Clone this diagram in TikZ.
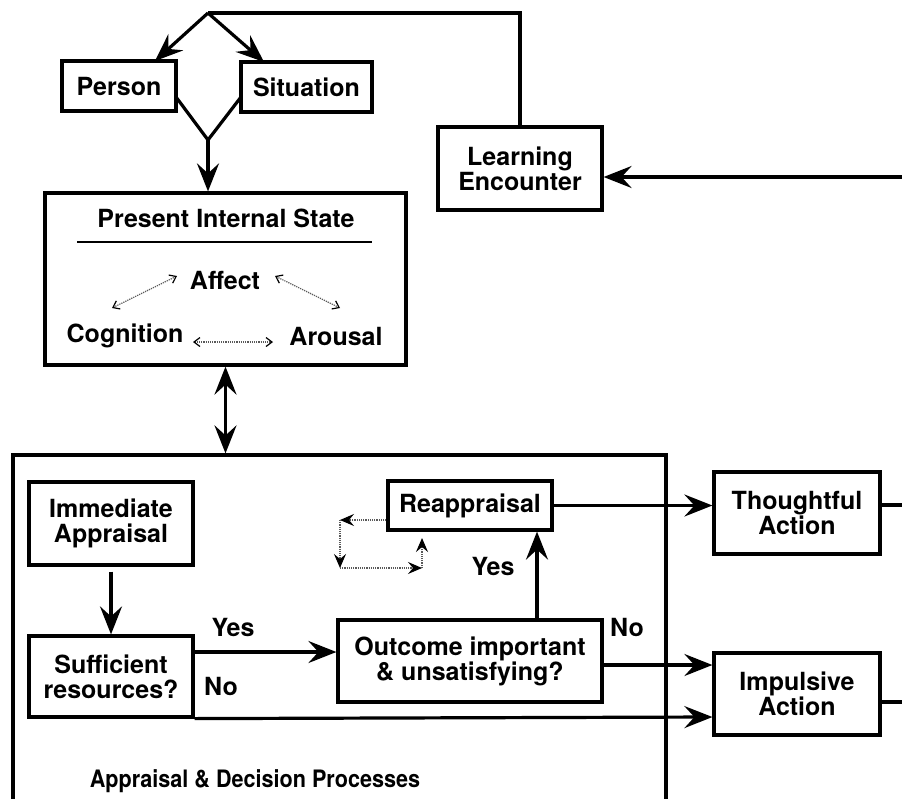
\documentclass[tikz,border=0pt]{standalone}
\usepackage{fontspec}
\setmainfont{TeX Gyre Heros}
\usetikzlibrary{arrows.meta}
\begin{document}
\begin{tikzpicture}[x=1pt,y=-1pt,
  font=\fontsize{25}{26}\selectfont\bfseries,
  box/.style={draw,line width=3.2pt,inner sep=0pt,align=center},
  lbl/.style={inner sep=0pt,align=center},
  wire/.style={line width=3.2pt},
  tip/.tip={Stealth[length=28pt,width=22pt,inset=10pt]},
  arr/.style={wire,-tip},
  darr/.style={wire,tip-tip},
  thin/.style={line width=1.2pt,black!65,densely dotted},
  tarr/.style={thin,{Straight Barb[length=6pt,width=9pt,black]}-{Straight Barb[length=6pt,width=9pt,black]}},
  loop/.style={thin,-{Stealth[length=14pt,width=12pt,inset=5pt,black]}}]
\clip (0,0) rectangle (902,798);
\fill[white] (0,0) rectangle (902,798);

% boxes
\node[box,minimum width=114pt,minimum height=50pt] (person) at (119,86) {Person};
\node[box,minimum width=131pt,minimum height=50pt] (sit) at (306.5,87) {Situation};
\node[box,minimum width=164pt,minimum height=83pt] (learn) at (520,168.5) {Learning\\[-1pt]Encounter};
\node[box,minimum width=361pt,minimum height=172pt] (pis) at (225.5,279) {};
\node[lbl] (pistitle) at (226,218) {Present Internal State};
\node[lbl] (affect) at (225,280) {Affect};
\node[lbl] (cog) at (125,336) {Cognition};
\node[lbl] (arous) at (336,336) {Arousal};
\draw[line width=2.4pt] (77,242) -- (372,242);

\node[box,minimum width=653pt,minimum height=360pt] (adp) at (339.5,635) {};
\node[lbl,font=\fontsize{24}{26}\selectfont\bfseries] (adptitle) at (255,781) {\scalebox{0.9}[1]{Appraisal \& Decision Processes}};
\node[box,minimum width=164pt,minimum height=83pt] (imm) at (111,523.5) {Immediate\\[-1pt]Appraisal};
\node[box,minimum width=164pt,minimum height=81pt] (suff) at (111,676.5) {Sufficient\\[-1pt]resources?};
\node[box,minimum width=264pt,minimum height=82pt] (out) at (470,661) {Outcome important\\[-1pt]\& unsatisfying?};
\node[box,minimum width=164pt,minimum height=49pt] (reap) at (470,505.5) {Reappraisal};
\node[box,minimum width=166pt,minimum height=82pt] (thought) at (797,513) {Thoughtful\\[-1pt]Action};
\node[box,minimum width=166pt,minimum height=82pt] (impul) at (797,694) {Impulsive\\[-1pt]Action};

\node[lbl] (yes1) at (233,627) {Yes};
\node[lbl] (no1) at (221,686) {No};
\node[lbl] (yes2) at (493,566) {Yes};
\node[lbl] (no2) at (627,627) {No};

% fan-out from the top junction
\coordinate (top) at (208,13);
\coordinate (vee) at (208,140);
\coordinate (edgeL) at (902,177);
\coordinate (edgeT) at (902,505);
\coordinate (edgeI) at (902,702);
\draw[wire] (learn.north) |- (top);
\draw[arr] (top) -- (155,61);
\draw[arr] (top) -- (264,62);
\draw[wire,line join=miter] (176,97) -- (vee) -- (241,97);
\draw[arr] (vee) -- (vee |- pis.north);
\draw[darr] (pis.south) -- (adp.north -| pis.south);
\draw[arr] (edgeL) -- (learn.east |- edgeL);

% inside the internal state
\draw[tarr] (112,308) -- (177,276);
\draw[tarr] (275,276) -- (340,308);
\draw[tarr] (193,342) -- (273,342);

% decision flow
\draw[arr] (imm.south) ++(0,5) -- (suff.north);
\draw[arr] (suff.east |- 0,652) -- (out.west |- 0,652);
\draw[arr] (out.north -| 537,0) -- (reap.south -| 537,0);
\draw[arr] (reap.east) -- (thought.west |- reap.east);
\draw[arr] (out.east |- 0,665) -- (impul.west |- 0,665);
\draw[arr] (suff.south east) -- (impul.west |- 0,717);
\draw[wire] (thought.east |- edgeT) -- (edgeT);
\draw[wire] (impul.east |- edgeI) -- (edgeI);

% reappraisal loop
\coordinate (l1) at (340,520);
\coordinate (l2) at (340,568);
\coordinate (l3) at (422,568);
\coordinate (l4) at (422,538);
\draw[loop] (reap.west |- l1) -- (l1);
\draw[loop] (l1) -- (l2);
\draw[loop] (l2) -- (l3);
\draw[loop] (l3) -- (l4);
\end{tikzpicture}
\end{document}
